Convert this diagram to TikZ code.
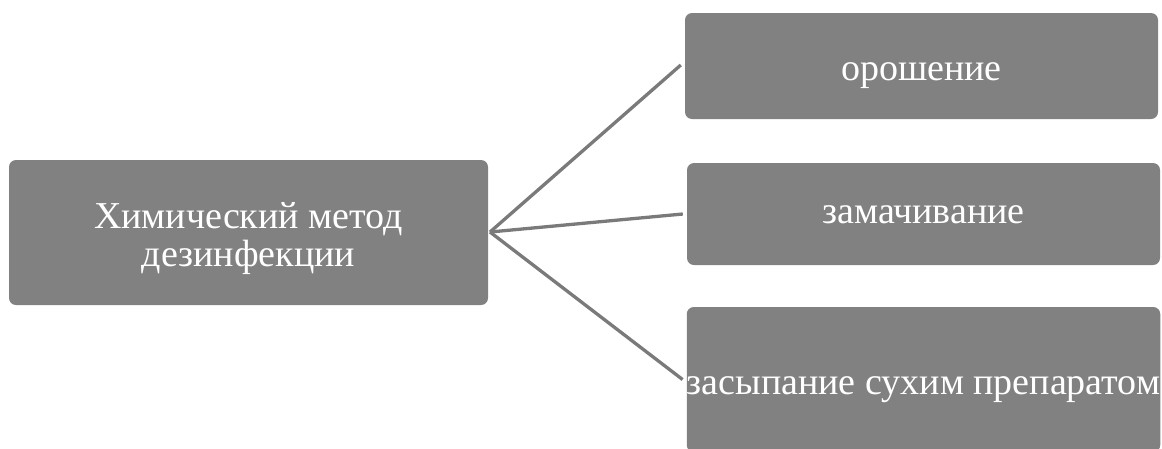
\documentclass[tikz,border=0pt]{standalone}
\usepackage{fontspec}
\setmainfont{Liberation Serif}
\definecolor{boxgray}{HTML}{818181}
\definecolor{linegray}{HTML}{7A7A7A}
\newcommand\lowerby[2]{\raisebox{-#1}[\height][\depth]{#2}}
\tikzset{
  box/.style={fill=boxgray, rounded corners=7pt, text=white,
    inner sep=0pt, font=\fontsize{38}{38}\selectfont},
  oneline/.style={text height=27pt, text depth=9pt},
  conn/.style={draw=linegray, line width=3.3pt}
}
\begin{document}
\begin{tikzpicture}[x=1pt,y=-1pt]
\useasboundingbox (0,0) rectangle (1162,448);
\clip (0,0) rectangle (1162,448);
\node[box, minimum width=479pt, minimum height=145pt] (L) at (248.5,232.5)
  {\lowerby{7pt}{\begin{tabular}{@{}c@{}}Химический метод\\дезинфекции\end{tabular}}};
\node[box, oneline, minimum width=473pt, minimum height=106pt] (T) at (921.5,66) {\lowerby{5pt}{орошение}};
\node[box, oneline, minimum width=473pt, minimum height=102pt] (M) at (923.5,214) {\lowerby{0pt}{замачивание}};
\node[box, oneline, minimum width=473pt, minimum height=145pt] (B) at (923.5,379.5) {\lowerby{6pt}{засыпание сухим препаратом}};
\coordinate (J) at (490,232);
\draw[conn] (J) -- ([xshift=-4pt,yshift=1pt]T.west);
\draw[conn] (J) -- ([xshift=-4pt]M.west);
\draw[conn] (J) -- ([xshift=-4pt]B.west);
\end{tikzpicture}
\end{document}
